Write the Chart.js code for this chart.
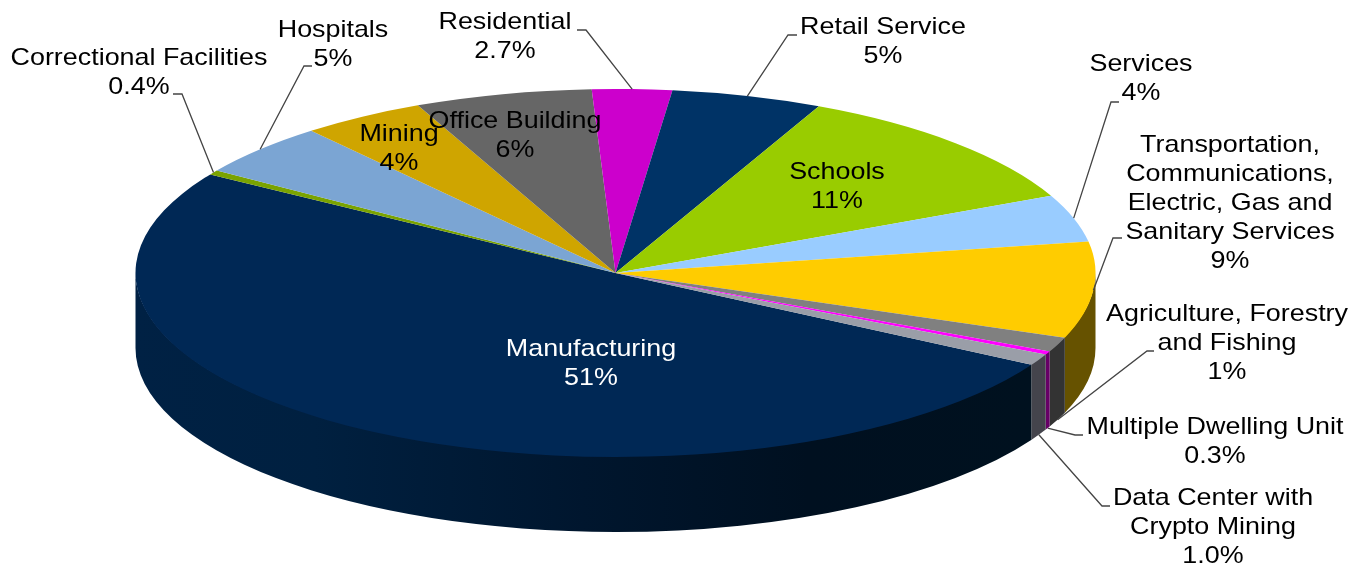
<!DOCTYPE html>
<html>
<head>
<meta charset="utf-8">
<title>Market share by sector</title>
<script src="https://cdn.jsdelivr.net/npm/chart.js@4"></script>
<style>
  html, body { margin: 0; padding: 0; background: #fff; }
  canvas { display: block; }
</style>
</head>
<body>
<canvas id="myChart" width="1364" height="567"></canvas>
<script>
// values, clockwise starting at Manufacturing
const categories = ['Manufacturing', 'Correctional Facilities', 'Hospitals', 'Mining', 'Office Building',
  'Residential', 'Retail Service', 'Schools', 'Services',
  'Transportation, Communications, Electric, Gas and Sanitary Services',
  'Agriculture, Forestry and Fishing', 'Multiple Dwelling Unit', 'Data Center with Crypto Mining'];
const shares = [51, 0.4, 4.7, 4.2, 6, 2.7, 5.1, 11.2, 4.2, 8.5, 1.3, 0.3, 1.0];
const shareText = ['51%', '0.4%', '5%', '4%', '6%', '2.7%', '5%', '11%', '4%', '9%', '1%', '0.3%', '1.0%'];

const topColors = ['#002855', '#7aa300', '#7ba5d3', '#cfa500', '#666666', '#cc00cc', '#003366',
  '#99cc00', '#99ccff', '#ffcc00', '#808080', '#ff00ff', '#9a9ea8'];
const wallColors = ['#002144', '#3d5200', '#3e536a', '#675300', '#333333', '#660066', '#001a33',
  '#4d6600', '#4d6680', '#665200', '#333333', '#660066', '#44444c'];

// label layout: wrapped lines, centre x, y of first line, leader [elbow x, elbow y, end x], leader on lower rim
const labelLines = [['Manufacturing'], ['Correctional Facilities'], ['Hospitals'], ['Mining'], ['Office Building'],
  ['Residential'], ['Retail Service'], ['Schools'], ['Services'],
  ['Transportation,', 'Communications,', 'Electric, Gas and', 'Sanitary Services'],
  ['Agriculture, Forestry', 'and Fishing'], ['Multiple Dwelling Unit'], ['Data Center with', 'Crypto Mining']];
const labelX = [591, 139, 333, 399, 515, 505, 883, 837, 1141, 1230, 1227, 1215, 1213];
const labelY = [349, 58, 30, 134, 121, 22, 27, 172, 64, 145, 314, 427, 498];
const leaders = [null, [182, 94, 173], [304, 66, 312], null, null, [586, 30, 577], [788, 35, 797], null,
  [1111, 102, 1119], [1113, 238, 1122], [1147, 351, 1154], [1075, 435, 1083], [1102, 506, 1110]];
const lowerRim = [10, 11, 12];

const depth = 75;
const squash = 184 / 480;
const lineGap = 29;
const textStretch = 1.12; // the source picture has wide, stretched lettering

const pie3d = {
  id: 'pie3d',
  beforeDatasetsDraw(chart) {
    const ctx = chart.ctx;
    const arcs = chart.getDatasetMeta(0).data;
    // outer wall of every slice that faces the viewer
    arcs.forEach((arc, i) => {
      let from = norm(arc.startAngle);
      let to = norm(arc.endAngle);
      if (to < from) from = 0; // slice runs across the 3 o'clock point
      to = Math.min(to, Math.PI);
      if (to <= from) return;
      const r = arc.outerRadius, ry = r * squash;
      const g = ctx.createLinearGradient(arc.x + r * Math.cos(to), 0, arc.x + r * Math.cos(from), 0);
      if (i === 0) {
        g.addColorStop(0, '#002144');
        g.addColorStop(0.2, '#002040');
        g.addColorStop(0.5, '#00162e');
        g.addColorStop(0.75, '#001020');
        g.addColorStop(1, '#00111f');
      } else {
        g.addColorStop(0, wallColors[i]);
        g.addColorStop(1, wallColors[i]);
      }
      ctx.beginPath();
      // top edge starts 1px higher so it sits under the top face with no pale seam
      ctx.ellipse(arc.x, arc.y - 1, r, ry, 0, from, to);
      ctx.ellipse(arc.x, arc.y + depth, r, ry, 0, to, from, true);
      ctx.closePath();
      ctx.fillStyle = g;
      ctx.fill();
    });
    // squash the flat pie into the tilted top face
    const cy = arcs[0].y;
    ctx.save();
    ctx.translate(0, cy);
    ctx.scale(1, squash);
    ctx.translate(0, -cy);
  },
  afterDatasetsDraw(chart) {
    chart.ctx.restore();
  },
  afterDraw(chart) {
    const ctx = chart.ctx;
    const arcs = chart.getDatasetMeta(0).data;
    ctx.save();
    ctx.strokeStyle = '#444';
    ctx.lineWidth = 1.3;
    leaders.forEach((l, i) => {
      if (!l) return;
      const arc = arcs[i];
      const mid = (arc.startAngle + arc.endAngle) / 2;
      const x = arc.x + arc.outerRadius * Math.cos(mid);
      let y = arc.y + arc.outerRadius * squash * Math.sin(mid);
      if (lowerRim.includes(i)) y += depth;
      ctx.beginPath();
      ctx.moveTo(x, y);
      ctx.lineTo(l[0], l[1]);
      ctx.lineTo(l[2], l[1]);
      ctx.stroke();
    });
    ctx.font = '24px "Liberation Sans", Arial, sans-serif';
    ctx.textAlign = 'center';
    ctx.textBaseline = 'middle';
    labelLines.forEach((lines, i) => {
      ctx.fillStyle = i === 0 ? '#ffffff' : '#000000';
      lines.concat(shareText[i]).forEach((t, n) => {
        ctx.save();
        ctx.translate(labelX[i], labelY[i] + n * lineGap);
        ctx.scale(textStretch, 1);
        ctx.fillText(t, 0, 0);
        ctx.restore();
      });
    });
    ctx.restore();
  }
};

function norm(a) {
  const t = Math.PI * 2;
  return ((a % t) + t) % t;
}

const myChart = new Chart(document.getElementById('myChart').getContext('2d'), {
  type: 'pie',
  data: {
    labels: categories,
    datasets: [{
      data: shares,
      backgroundColor: topColors,
      borderWidth: 0,
      clip: false
    }]
  },
  options: {
    responsive: false,
    animation: false,
    events: [],
    radius: 480,
    rotation: 119.9,
    layout: { padding: { left: 0, top: 0, right: 133, bottom: 21 } },
    plugins: { legend: { display: false }, tooltip: { enabled: false } }
  },
  plugins: [pie3d]
});
</script>
</body>
</html>
